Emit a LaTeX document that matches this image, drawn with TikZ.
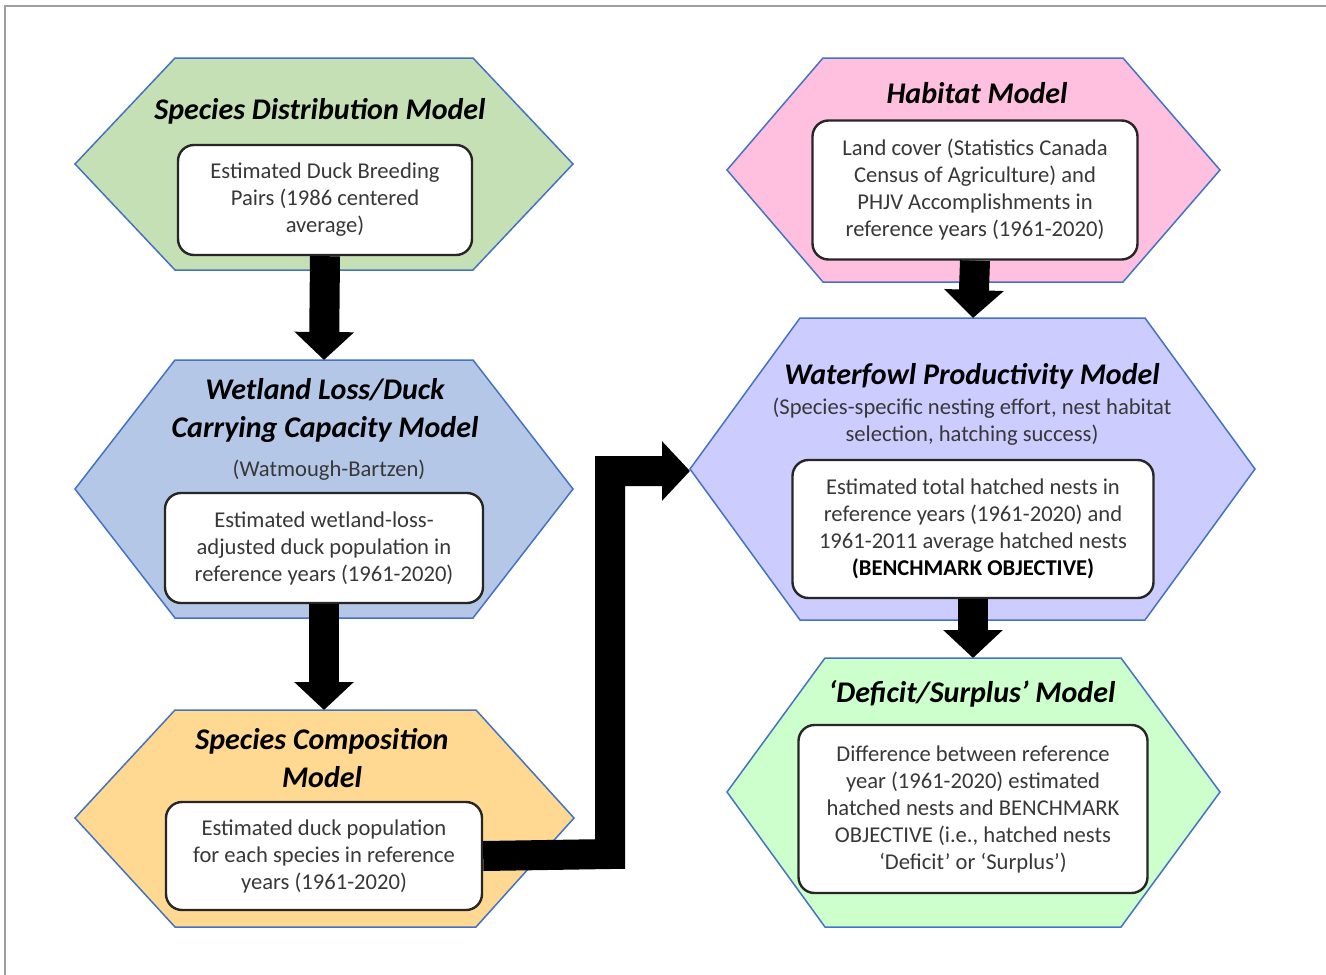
\documentclass[tikz,border=0pt]{standalone}
\usepackage{fontspec}
\setmainfont{Carlito}
\usepackage{xcolor}
\usetikzlibrary{arrows.meta, positioning, calc}

\definecolor{sdmgreen}{RGB}{197,224,180}
\definecolor{wetblue}{RGB}{180,199,231}
\definecolor{compgold}{RGB}{255,217,145}
\definecolor{habpink}{RGB}{255,191,223}
\definecolor{prodlav}{RGB}{204,204,255}
\definecolor{defgreen}{RGB}{204,255,204}
\definecolor{hexline}{RGB}{68,114,196}

\newcommand{\boxfont}{\fontsize{22.6}{27}\selectfont}
\newcommand{\hdfont}{\fontsize{30}{38}\selectfont\bfseries\itshape}

\tikzset{
  hexa/.style={draw=hexline, line width=1.5pt, line join=miter},
  infobox/.style={draw=black!85, line width=2.4pt, fill=white, rounded corners=16pt,
    align=center, font=\boxfont, text=black!78, inner sep=0pt},
  modeltitle/.style={font=\hdfont, align=center},
  subnote/.style={font=\boxfont, text=black!78, align=center},
  fatarrow/.style={line width=30pt, line join=miter, -{Triangle[width=58pt, length=28pt]}}
}

\begin{document}
\begin{tikzpicture}[x=1pt, y=-1pt]
  \useasboundingbox (0,0) rectangle (1326,975);
  % --- Frame ---
  \draw[gray!75, line width=2pt] (5,975) -- (5,6) -- (1326,6);

  % --- Left column ---
  % Species distribution
  \draw[hexa, fill=sdmgreen] (75,164) -- (175,58) -- (473,58) -- (573,164) -- (473,270) -- (175,270) -- cycle;
  \node[modeltitle] (t1) at (320,111) {Species Distribution Model};
  \node[infobox, minimum width=294pt, minimum height=110pt] (box1) at (325,200)
    {Estimated Duck Breeding\\Pairs (1986 centered\\average)};
  % Wetland loss
  \draw[hexa, fill=wetblue] (75,489) -- (175,360) -- (473,360) -- (573,489) -- (473,618) -- (175,618) -- cycle;
  \coordinate (h2top) at (324,360);
  \node[modeltitle] (t2) at (325,410) {Wetland Loss/Duck\\Carrying Capacity Model};
  \node[subnote] (s2) at (329,470) {(Watmough-Bartzen)};
  \node[infobox, minimum width=318pt, minimum height=110pt] (box2) at (324,548)
    {Estimated wetland-loss-\\adjusted duck population in\\reference years (1961-2020)};
  % Species composition
  \draw[hexa, fill=compgold] (75,818) -- (175,710) -- (476,710) -- (574,818) -- (476,927) -- (175,927) -- cycle;
  \coordinate (h3top) at (324,710);
  \node[modeltitle] (t3) at (322,758) {Species Composition\\Model};
  \node[infobox, minimum width=316pt, minimum height=108pt] (box3) at (324,856)
    {Estimated duck population\\for each species in reference\\years (1961-2020)};

  % --- Right column ---
  % Habitat
  \draw[hexa, fill=habpink] (727,170) -- (823,58) -- (1123,58) -- (1220,170) -- (1123,282) -- (823,282) -- cycle;
  \node[modeltitle] (t4) at (977,93) {Habitat Model};
  \node[infobox, minimum width=325pt, minimum height=139pt] (box4) at (975,190)
    {Land cover (Statistics Canada\\Census of Agriculture) and\\PHJV Accomplishments in\\reference years (1961-2020)};
  % Waterfowl productivity
  \draw[hexa, fill=prodlav] (690,469) -- (800,318) -- (1145,318) -- (1255,469) -- (1145,620) -- (800,620) -- cycle;
  \coordinate (h5top) at (973,318);
  \coordinate (h5west) at (690,471);
  \node[modeltitle] (t5) at (972,376) {Waterfowl Productivity Model};
  \node[subnote] (s5) at (972,422) {(Species-specific nesting effort, nest habitat\\selection, hatching success)};
  \node[infobox, minimum width=361pt, minimum height=138pt] (box5) at (973,529)
    {Estimated total hatched nests in\\reference years (1961-2020) and\\1961-2011 average hatched nests\\{\color{black}\bfseries (BENCHMARK OBJECTIVE)}};
  % Deficit / surplus
  \draw[hexa, fill=defgreen] (727,792) -- (825,658) -- (1121,658) -- (1220,792) -- (1121,927) -- (825,927) -- cycle;
  \coordinate (h6top) at (973,658);
  \node[modeltitle] (t6) at (972,694) {`Deficit/Surplus' Model};
  \node[infobox, minimum width=349pt, minimum height=168pt] (box6) at (973,809)
    {Difference between reference\\year (1961-2020) estimated\\hatched nests and BENCHMARK\\OBJECTIVE (i.e., hatched nests\\`Deficit' or `Surplus')};

  % --- Arrows ---
  \draw[fatarrow] (box1.south) -- (h2top);
  \draw[fatarrow] (box2.south) -- (h3top);
  \draw[fatarrow] (box4.south) -- (h5top);
  \draw[fatarrow] (box5.south) -- (h6top);
  \coordinate (bend) at (610,854);
  \draw[fatarrow] (box3.east) -- (bend) |- (h5west);
\end{tikzpicture}
\end{document}
